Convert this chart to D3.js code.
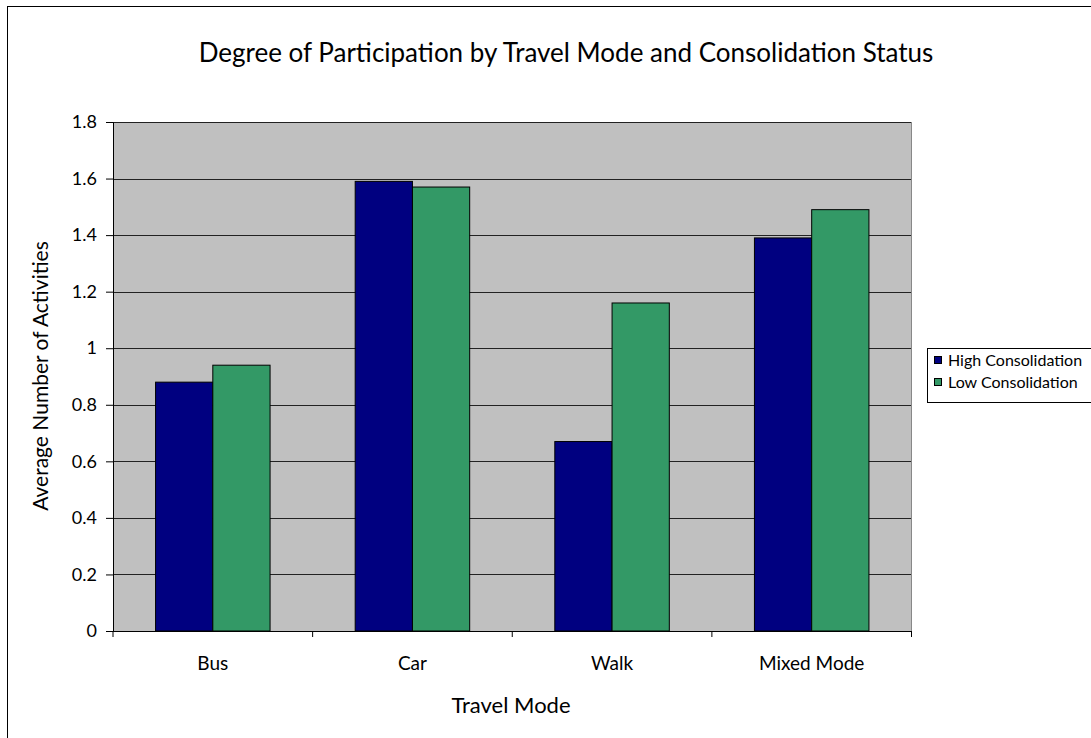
<!DOCTYPE html>
<html><head><meta charset="utf-8">
<script src="https://cdn.jsdelivr.net/npm/d3@7"></script>
<style>body{margin:0;background:#fff}svg{display:block}text{font-family:Lato,"Open Sans",sans-serif;fill:#000}</style>
</head><body><svg id="c" width="1091" height="738"></svg>
<script>
const categories = ["Bus","Car","Walk","Mixed Mode"];
const seriesNames = ["High Consolidation","Low Consolidation"];
const highValues = [0.88, 1.59, 0.67, 1.39];
const lowValues = [0.94, 1.57, 1.16, 1.49];
const yTicks = [0,0.2,0.4,0.6,0.8,1,1.2,1.4,1.6,1.8];
const colors = ["#000080","#339966"];

const svg = d3.select("#c");
svg.append("rect").attr("x",7.5).attr("y",6.5).attr("width",1200).attr("height",800).attr("fill","#fff").attr("stroke","#000").attr("stroke-width",1);

const L=113, R=911.5, T=122, B=631;
const x = d3.scaleBand().domain(categories).range([L,R]).paddingInner(0.4264).paddingOuter(0.2132);
const xb = d3.scaleBand().domain(seriesNames).range([0,x.bandwidth()]);
const y = d3.scaleLinear().domain([0,1.8]).range([B,T]);

svg.append("rect").attr("x",L).attr("y",T).attr("width",R-L).attr("height",B-T).attr("fill","#c0c0c0");
svg.append("g").selectAll("line").data(yTicks.filter(d=>d>0)).join("line")
  .attr("x1",L).attr("x2",R).attr("y1",d=>Math.round(y(d))+0.5).attr("y2",d=>Math.round(y(d))+0.5)
  .attr("stroke","#222").attr("stroke-width",1);
svg.append("line").attr("x1",R).attr("x2",R).attr("y1",T).attr("y2",B).attr("stroke","#888");

const data = categories.map((c,i)=>({c, vals:[highValues[i],lowValues[i]]}));
const g = svg.append("g");
data.forEach(d=>{
  d.vals.forEach((v,j)=>{
    g.append("rect").attr("x",x(d.c)+xb(seriesNames[j])).attr("y",y(v))
     .attr("width",xb.bandwidth()).attr("height",B-y(v))
     .attr("fill",colors[j]).attr("stroke","#000").attr("stroke-width",1);
  });
});

const ya = svg.append("g").attr("transform",`translate(${L},0)`)
  .call(d3.axisLeft(y).tickValues(yTicks).tickSize(7).tickPadding(9).tickFormat(d=>d3.format("")(+d.toFixed(1))));
ya.select(".domain").attr("stroke","#000");
ya.selectAll("text").style("font-size","18px");

const xa = svg.append("g").attr("transform",`translate(0,${B})`);
xa.append("line").attr("x1",L-7).attr("x2",R).attr("y1",0.5).attr("y2",0.5).attr("stroke","#000");
const step = (R-L)/categories.length;
xa.selectAll("line.t").data(d3.range(categories.length+1)).join("line").attr("class","t")
  .attr("x1",i=>L+i*step).attr("x2",i=>L+i*step).attr("y1",0).attr("y2",6).attr("stroke","#000");
xa.selectAll("text").data(categories).join("text")
  .attr("x",d=>x(d)+x.bandwidth()/2).attr("y",39).attr("text-anchor","middle").style("font-size","19px").text(d=>d);

svg.append("text").attr("x",566).attr("y",62).attr("text-anchor","middle").style("font-size","26px")
  .text("Degree of Participation by Travel Mode and Consolidation Status");
svg.append("text").attr("x",511).attr("y",713).attr("text-anchor","middle").style("font-size","22px").text("Travel Mode");
svg.append("text").attr("transform","translate(48,376) rotate(-90)").attr("text-anchor","middle").style("font-size","21px")
  .text("Average Number of Activities");

const lg = svg.append("g");
lg.append("rect").attr("x",927.5).attr("y",348.5).attr("width",200).attr("height",54).attr("fill","#fff").attr("stroke","#000");
seriesNames.forEach((n,i)=>{
  lg.append("rect").attr("x",934.5).attr("y",356.5+i*22).attr("width",7).attr("height",7).attr("fill",colors[i]).attr("stroke","#000");
  lg.append("text").attr("x",948).attr("y",366+i*22).style("font-size","16px").text(n);
});
</script></body></html>
